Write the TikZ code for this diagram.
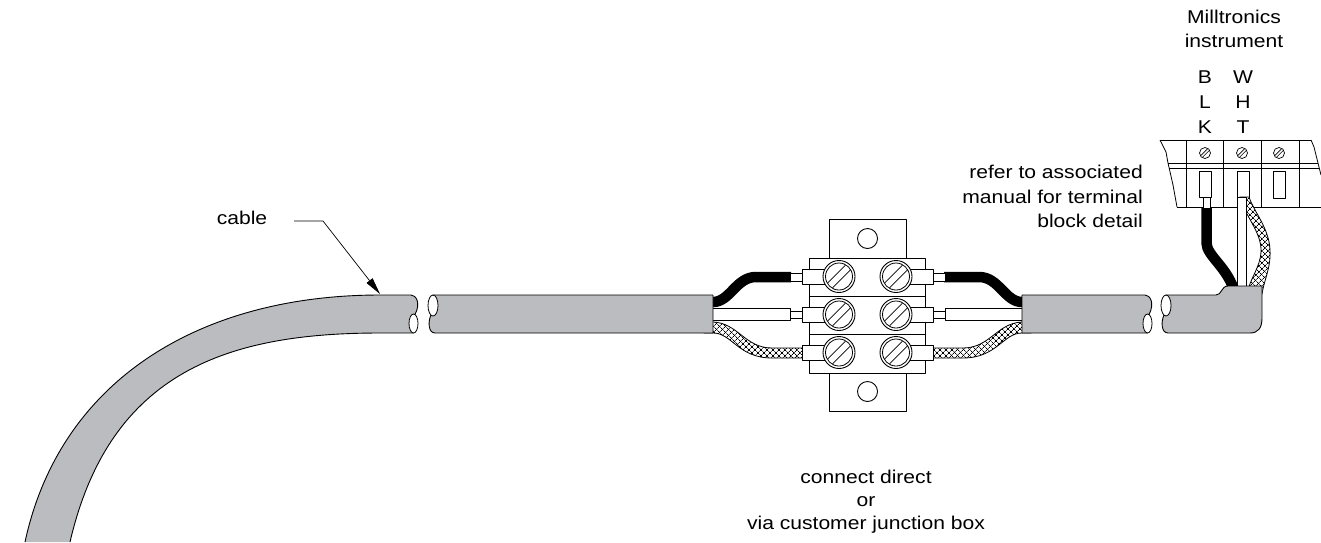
\documentclass[tikz,border=0pt]{standalone}
\usepackage{fontspec}
\setmainfont{Liberation Sans}[FakeStretch=1.14]
\usetikzlibrary{arrows.meta,patterns.meta}
\definecolor{cablegray}{RGB}{187,188,191}
\newcommand\jbwires{%
  \path[braid] (704,322) -- (713,322) .. controls (738,323) and (745,348) .. (772,348) -- (803,348) -- (803,358) -- (772,358) .. controls (738,358) and (732,333) .. (713,333) -- (704,333) -- cycle;
  \draw[fill=white] (704,308) rectangle (790,320);
  \draw[fill=white] (790,311) rectangle (803,318);
  \draw[blackwire] (704,302) -- (713,302) .. controls (730,302) and (736,277) .. (756,277) -- (791,277);
  \draw[fill=white] (790,273) rectangle (803,281);
}
\tikzset{
  lbl/.style={font=\fontsize{18.5}{23}\selectfont, inner sep=0pt, anchor=base},
  cablebody/.style={fill=cablegray, draw=black, line width=0.9pt},
  cutface/.style={fill=white, draw=black, line width=0.8pt},
  blackwire/.style={line width=10.5pt, draw=black, line cap=butt},
  braid/.style={preaction={fill=white},
    preaction={pattern={Lines[angle=45,distance=4pt,line width=0.75pt]}},
    pattern={Lines[angle=-45,distance=4pt,line width=0.75pt]}, draw=black, line width=0.8pt},
  boxline/.style={draw=black, line width=0.9pt, fill=white},
  jscrew/.pic={
    \draw[boxline] (0,0) circle[radius=16];
    \draw[line width=0.8pt] (0,0) circle[radius=13.5];
    \draw[line width=0.8pt] (-6.4,11.3) -- (11.3,-6.4);
    \draw[line width=0.8pt] (-11.3,6.4) -- (6.4,-11.3);
  },
  tscrew/.pic={
    \draw[line width=0.7pt, fill=white] (0,0) circle[radius=5.5];
    \draw[line width=0.6pt] (-2.35,4.05) -- (4.05,-2.35);
    \draw[line width=0.6pt] (-4.05,2.35) -- (2.35,-4.05);
  }
}
\begin{document}
\begin{tikzpicture}[x=1pt,y=-1pt,line join=round]
\useasboundingbox[fill=white] (0,0) rectangle (1321,542);

% ---- wires at the junction box (left, then mirrored right)
\jbwires
\begin{scope}[shift={(1735,0)},xscale=-1]
  \jbwires
\end{scope}

% ---- first (curved) cable piece
\fill[cablegray] (25,542) .. controls (60,380) and (200,295) .. (380,295) -- (411,295)
  .. controls (416,295) and (421,303) .. (415,314.5) -- (413.5,323.5) -- (413.5,333) -- (380,333)
  .. controls (230,333) and (110,370) .. (70,542) -- cycle;
\draw[line width=0.9pt] (25,542) .. controls (60,380) and (200,295) .. (380,295) -- (411,295)
  .. controls (416,295) and (421,303) .. (415,314.5);
\draw[line width=0.9pt] (413.5,333) -- (380,333) .. controls (230,333) and (110,370) .. (70,542);
\draw[cutface] (413.5,323.5) ellipse[x radius=4.5, y radius=9.5];

% ---- middle cable piece
\path[cablebody] (433,295) -- (713,295) -- (713,333) -- (435,333)
  .. controls (428,333) and (428,321) .. (431,315.1) -- (433,305.5) -- cycle;
\draw[cutface] (433,305.5) ellipse[x radius=5, y radius=10.5];

% ---- right middle cable piece
\path[cablebody] (1022,295) -- (1145,295) .. controls (1150,295) and (1155,303) .. (1149,314.5)
  -- (1147.5,323.5) -- (1147.5,333) -- (1022,333) -- cycle;
\draw[cutface] (1147.5,323.5) ellipse[x radius=4.5, y radius=9.5];

% ---- junction box
\draw[boxline] (829,219) rectangle (906,258);
\draw[boxline] (867.5,238.5) circle[radius=10];
\draw[boxline] (829,373) rectangle (906,411);
\draw[boxline] (867.5,391.5) circle[radius=10];
\draw[boxline] (809,258) rectangle (925,373);
\draw[line width=0.9pt] (809,296) -- (925,296);
\draw[line width=0.9pt] (809,334) -- (925,334);
\foreach \yc in {276.5,314.5,352.5}{
  \draw[boxline] (802,\yc-7.5) rectangle (826,\yc+7.5);
  \draw[boxline] (909,\yc-7.5) rectangle (933,\yc+7.5);
  \pic at (839,\yc) {jscrew};
  \pic at (896,\yc) {jscrew};
}

% ---- terminal block of the instrument
\draw[line width=0.8pt] (1160,140) -- (1311,140);
\draw[line width=0.8pt] (1160,140) -- (1166,152) -- (1168,163) -- (1173,185) -- (1177,207);
\draw[line width=0.8pt] (1311,140) -- (1314,147) -- (1318,163) -- (1321,175);
\draw[line width=0.8pt] (1177,207) -- (1321,207);
\draw[line width=0.8pt] (1168,163) -- (1318,163);
\draw[line width=0.8pt] (1169.1,168) -- (1319.3,168);
\foreach \xv in {1186,1223,1261,1299}{
  \draw[line width=0.8pt] (\xv,140) -- (\xv,207);
}
\pic at (1205,153) {tscrew};
\pic at (1242,153) {tscrew};
\pic at (1279,153) {tscrew};
\draw[line width=0.8pt] (1199,171) rectangle (1211,197);
\draw[line width=0.8pt] (1237,171) rectangle (1249,197);
\draw[line width=0.8pt] (1273,171) rectangle (1285,198);

% ---- wires into the terminal block
\path[braid] (1240,197) .. controls (1244,215) and (1262,232) .. (1261,252)
  .. controls (1260,268) and (1250,278) .. (1247,294) -- (1262,294)
  .. controls (1264,280) and (1271,268) .. (1270,250)
  .. controls (1269,228) and (1254,212) .. (1249,197) -- cycle;
\draw[fill=white, line width=0.8pt] (1237,197) rectangle (1246,294);
\draw[fill=white, line width=0.8pt] (1203,197) rectangle (1210,209);
\draw[blackwire] (1206.5,208) -- (1206.5,243) .. controls (1206.5,256) and (1229,268) .. (1235,294);

% ---- last cable piece with elbow
\path[cablebody] (1166,295) -- (1216,295) .. controls (1222,295) and (1221,286) .. (1228,286)
  -- (1262,286) -- (1262,318) .. controls (1262,328) and (1258,333) .. (1250,333) -- (1168,333)
  .. controls (1161,333) and (1161,321) .. (1164,315.1) -- (1166,305.5) -- cycle;
\draw[cutface] (1166,305.5) ellipse[x radius=5, y radius=10.5];

% ---- texts
\node[lbl] (cablelbl) at (242,224) {cable};
\coordinate (ldA) at (294,221);
\coordinate (ldB) at (323,221);
\coordinate (cabletip) at (380,294);
\draw[line width=0.7pt, -{Triangle[length=17pt,width=7.5pt]}] (ldA) -- (ldB) -- (cabletip);

\node[lbl, anchor=base east] (ref1) at (1143,178) {refer to associated};
\node[lbl, anchor=base east] (ref2) at (1143,203) {manual for terminal};
\node[lbl, anchor=base east] (ref3) at (1143,227) {block detail};

\node[lbl] (mil1) at (1234,23) {Milltronics};
\node[lbl] (mil2) at (1234,47) {instrument};

\node[lbl] (b1) at (1205,83) {B};
\node[lbl] (b2) at (1205,108) {L};
\node[lbl] (b3) at (1205,133) {K};
\node[lbl] (w1) at (1243,83) {W};
\node[lbl] (w2) at (1243,108) {H};
\node[lbl] (w3) at (1243,133) {T};

\node[lbl] (con1) at (866,483) {connect direct};
\node[lbl] (con2) at (866,506) {or};
\node[lbl] (con3) at (866,529) {via customer junction box};
\end{tikzpicture}
\end{document}
